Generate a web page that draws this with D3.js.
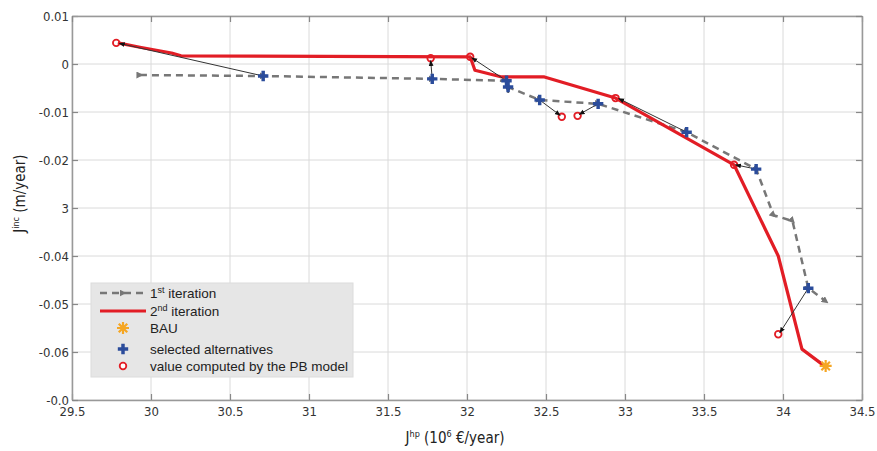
<!DOCTYPE html>
<html>
<head>
<meta charset="utf-8">
<script src="https://cdn.jsdelivr.net/npm/d3@7"></script>
<style>
  body { margin: 0; background: #fff; }
  .tick text { font-family: "Liberation Sans Narrow", "DejaVu Sans Condensed", sans-serif; font-size: 13px; fill: #333; }
</style>
</head>
<body>
<div id="chart"></div>
<script>
// ---- data ----
// 1st iteration (grey dashed)
var iter1X = [29.93, 30.71, 31.78, 32.25, 32.26, 32.46, 32.83, 33.39, 33.83, 33.94, 34.06, 34.16, 34.27];
var iter1Y = [-0.0023, -0.0025, -0.0031, -0.0035, -0.0048, -0.0075, -0.0083, -0.0142, -0.0219, -0.0315, -0.0327, -0.0467, -0.0494];
// 2nd iteration (red)
var iter2X = [29.79, 29.93, 30.06, 30.13, 30.19, 32.02, 32.05, 32.22, 32.49, 32.94, 33.69, 33.97, 34.12, 34.27];
var iter2Y = [0.0044, 0.0035, 0.0027, 0.0023, 0.0017, 0.0015, -0.0013, -0.0027, -0.0027, -0.0071, -0.0210, -0.0400, -0.0594, -0.0631];
// selected alternatives (blue +)
var selX = [30.71, 31.78, 32.25, 32.26, 32.46, 32.83, 33.39, 33.83, 34.16];
var selY = [-0.0025, -0.0031, -0.0035, -0.0048, -0.0075, -0.0083, -0.0142, -0.0219, -0.0467];
// value computed by the PB model (red o)
var pbX = [29.78, 31.77, 32.02, 32.60, 32.70, 32.94, 33.69, 33.97];
var pbY = [0.0044, 0.0012, 0.0015, -0.0110, -0.0108, -0.0071, -0.0210, -0.0563];
// arrows from selected alternative to PB value
var arrFromX = [30.71, 31.78, 32.25, 32.26, 32.46, 32.83, 33.39, 33.83, 34.16];
var arrFromY = [-0.0025, -0.0031, -0.0035, -0.0048, -0.0075, -0.0083, -0.0142, -0.0219, -0.0467];
var arrToX = [29.80, 31.77, 32.03, 32.26, 32.59, 32.71, 32.96, 33.70, 33.98];
var arrToY = [0.0043, 0.0007, 0.0013, -0.0060, -0.0107, -0.0105, -0.0072, -0.0210, -0.0560];
// BAU
var bauX = [34.27];
var bauY = [-0.0629];
// ticks
var xTicks = [29.5, 30, 30.5, 31, 31.5, 32, 32.5, 33, 33.5, 34, 34.5];
var xTickLabels = ["29.5", "30", "30.5", "31", "31.5", "32", "32.5", "33", "33.5", "34", "34.5"];
var yTicks = [0.01, 0, -0.01, -0.02, -0.03, -0.04, -0.05, -0.06, -0.07];
var yTickLabels = ["0.01", "0", "-0.01", "-0.02", "3", "-0.04", "-0.05", "-0.06", "-0.0"];

var margin = {top: 16, right: 15, bottom: 51, left: 72},
    width = 877 - margin.left - margin.right,
    height = 451 - margin.top - margin.bottom;

var svg = d3.select("#chart").append("svg")
    .attr("width", 877).attr("height", 451)
  .append("g")
    .attr("transform", "translate(" + margin.left + "," + margin.top + ")");

var x = d3.scaleLinear().domain([29.5, 34.5]).range([0, width]);
var y = d3.scaleLinear().domain([-0.07, 0.01]).range([height, 0]);

// markers
var defs = svg.append("defs");
defs.append("marker").attr("id", "greyTri")
    .attr("viewBox", "0 -5 10 10").attr("refX", 5).attr("refY", 0)
    .attr("markerWidth", 7).attr("markerHeight", 7).attr("orient", "auto")
    .attr("markerUnits", "userSpaceOnUse")
  .append("path").attr("d", "M0,-5L10,0L0,5Z").attr("fill", "#777");
defs.append("marker").attr("id", "blackArrow")
    .attr("viewBox", "0 -5 10 10").attr("refX", 9).attr("refY", 0)
    .attr("markerWidth", 6).attr("markerHeight", 6).attr("orient", "auto")
    .attr("markerUnits", "userSpaceOnUse")
  .append("path").attr("d", "M0,-4L10,0L0,4Z").attr("fill", "#111");

// grid
svg.append("g").selectAll("line.vg").data(xTicks).enter().append("line")
    .attr("x1", function(d) { return x(d); }).attr("x2", function(d) { return x(d); })
    .attr("y1", 0).attr("y2", height)
    .style("stroke", "#dadada").style("stroke-width", 1);
svg.append("g").selectAll("line.hg").data(yTicks).enter().append("line")
    .attr("y1", function(d) { return y(d); }).attr("y2", function(d) { return y(d); })
    .attr("x1", 0).attr("x2", width)
    .style("stroke", "#dadada").style("stroke-width", 1);

// axes (box with inward ticks)
function styleAxis(g) {
  g.select(".domain").style("stroke", "#999").style("stroke-width", 1.5);
  g.selectAll(".tick line").style("stroke", "#888").style("stroke-width", 1.2);
}
var xAxis = svg.append("g").attr("transform", "translate(0," + height + ")")
    .call(d3.axisBottom(x).tickValues(xTicks).tickSizeInner(-6).tickSizeOuter(0).tickPadding(9)
      .tickFormat(function(d, i) { return xTickLabels[i]; }));
styleAxis(xAxis);
var yAxis = svg.append("g")
    .call(d3.axisLeft(y).tickValues(yTicks).tickSizeInner(-6).tickSizeOuter(0).tickPadding(3)
      .tickFormat(function(d, i) { return yTickLabels[i]; }));
styleAxis(yAxis);
var topAxis = svg.append("g")
    .call(d3.axisTop(x).tickValues(xTicks).tickSizeInner(-6).tickSizeOuter(0).tickFormat(""));
styleAxis(topAxis);
var rightAxis = svg.append("g").attr("transform", "translate(" + width + ",0)")
    .call(d3.axisRight(y).tickValues(yTicks).tickSizeInner(-6).tickSizeOuter(0).tickFormat(""));
styleAxis(rightAxis);
xAxis.selectAll(".tick text").attr("dy", "0.55em");

// 1st iteration
var line = d3.line().x(function(d) { return x(d[0]); }).y(function(d) { return y(d[1]); });
var iter1 = iter1X.map(function(d, i) { return [d, iter1Y[i]]; });
svg.append("path").datum(iter1).attr("d", line)
    .style("fill", "none").style("stroke", "#777").style("stroke-width", 2.5)
    .style("stroke-dasharray", "7,5")
    .attr("marker-start", "url(#greyTri)").attr("marker-mid", "url(#greyTri)").attr("marker-end", "url(#greyTri)");

// PB model circles (drawn under the red line)
svg.append("g").selectAll("circle").data(pbX).enter().append("circle")
    .attr("cx", function(d) { return x(d); })
    .attr("cy", function(d, i) { return y(pbY[i]); })
    .attr("r", 3.3)
    .style("fill", "#fff").style("stroke", "#e21d25").style("stroke-width", 1.8);

// 2nd iteration
var iter2 = iter2X.map(function(d, i) { return [d, iter2Y[i]]; });
svg.append("path").datum(iter2).attr("d", line)
    .style("fill", "none").style("stroke", "#e21d25").style("stroke-width", 3.2)
    .style("stroke-linejoin", "round");

// arrows
svg.append("g").selectAll("line").data(arrFromX).enter().append("line")
    .attr("x1", function(d) { return x(d); })
    .attr("y1", function(d, i) { return y(arrFromY[i]); })
    .attr("x2", function(d, i) { return x(arrToX[i]); })
    .attr("y2", function(d, i) { return y(arrToY[i]); })
    .style("stroke", "#333").style("stroke-width", 1)
    .attr("marker-end", "url(#blackArrow)");

// selected alternatives
var plus = d3.symbol().type(d3.symbolCross).size(60);
svg.append("g").selectAll("path").data(selX).enter().append("path")
    .attr("d", plus)
    .attr("transform", function(d, i) { return "translate(" + x(d) + "," + y(selY[i]) + ")"; })
    .style("fill", "#2b4c9b");

// BAU star
function asterisk(r) {
  var p = "";
  for (var k = 0; k < 4; k++) {
    var a = k * Math.PI / 4;
    p += "M" + (-r * Math.cos(a)) + "," + (-r * Math.sin(a)) + "L" + (r * Math.cos(a)) + "," + (r * Math.sin(a));
  }
  return p;
}
svg.append("g").selectAll("path").data(bauX).enter().append("path")
    .attr("d", asterisk(6))
    .attr("transform", function(d, i) { return "translate(" + x(d) + "," + y(bauY[i]) + ")"; })
    .style("stroke", "#f5a623").style("stroke-width", 2.2).style("fill", "none");

// axis titles
var xt = svg.append("text").attr("x", 383).attr("y", height + 43)
    .attr("text-anchor", "middle")
    .style("font-family", "'Liberation Sans Narrow', 'DejaVu Sans Condensed', sans-serif").style("font-size", "15px").style("fill", "#222");
xt.append("tspan").text("J");
xt.append("tspan").attr("dy", -6).style("font-size", "9px").text("hp");
xt.append("tspan").attr("dy", 6).text(" (10");
xt.append("tspan").attr("dy", -6).style("font-size", "9px").text("6");
xt.append("tspan").attr("dy", 6).text(" €/year)");

var yt = svg.append("text").attr("transform", "translate(-47," + (y(-0.027)) + ") rotate(-90)")
    .attr("text-anchor", "middle")
    .style("font-family", "'Liberation Sans Narrow', 'DejaVu Sans Condensed', sans-serif").style("font-size", "15px").style("fill", "#222");
yt.append("tspan").text("J");
yt.append("tspan").attr("dy", -6).style("font-size", "9px").text("inc");
yt.append("tspan").attr("dy", 6).text(" (m/year)");

// Handmade legend
var lg = svg.append("g").attr("transform", "translate(19,267)");
lg.append("rect").attr("width", 262).attr("height", 94).style("fill", "#e6e6e6").style("stroke", "#dcdcdc");
var lf = "'Liberation Sans', Arial, sans-serif";
lg.append("path").attr("d", "M9,10L32,10L55,10")
    .style("stroke", "#777").style("stroke-width", 2.5).style("stroke-dasharray", "7,5").style("fill", "none")
    .attr("marker-mid", "url(#greyTri)");
lg.append("line").attr("x1", 9).attr("x2", 55).attr("y1", 28).attr("y2", 28)
    .style("stroke", "#e21d25").style("stroke-width", 3.2);
lg.append("path").attr("d", asterisk(6)).attr("transform", "translate(32,45)")
    .style("stroke", "#f5a623").style("stroke-width", 2.2);
lg.append("path").attr("d", plus).attr("transform", "translate(32,66)").style("fill", "#2b4c9b");
lg.append("circle").attr("cx", 32).attr("cy", 83).attr("r", 3.3)
    .style("fill", "#fff").style("stroke", "#e21d25").style("stroke-width", 1.8);
var t1 = lg.append("text").attr("x", 59).attr("y", 15).style("font-family", lf).style("font-size", "13.5px").style("fill", "#222");
t1.append("tspan").text("1");
t1.append("tspan").attr("dy", -5).style("font-size", "9px").text("st");
t1.append("tspan").attr("dy", 5).text(" iteration");
var t2 = lg.append("text").attr("x", 59).attr("y", 33).style("font-family", lf).style("font-size", "13.5px").style("fill", "#222");
t2.append("tspan").text("2");
t2.append("tspan").attr("dy", -5).style("font-size", "9px").text("nd");
t2.append("tspan").attr("dy", 5).text(" iteration");
lg.append("text").attr("x", 59).attr("y", 50).text("BAU").style("font-family", lf).style("font-size", "13.5px").style("fill", "#222");
lg.append("text").attr("x", 59).attr("y", 71).text("selected alternatives").style("font-family", lf).style("font-size", "13.5px").style("fill", "#222");
lg.append("text").attr("x", 59).attr("y", 88).text("value computed by the PB model").style("font-family", lf).style("font-size", "13.5px").style("fill", "#222");
</script>
</body>
</html>
